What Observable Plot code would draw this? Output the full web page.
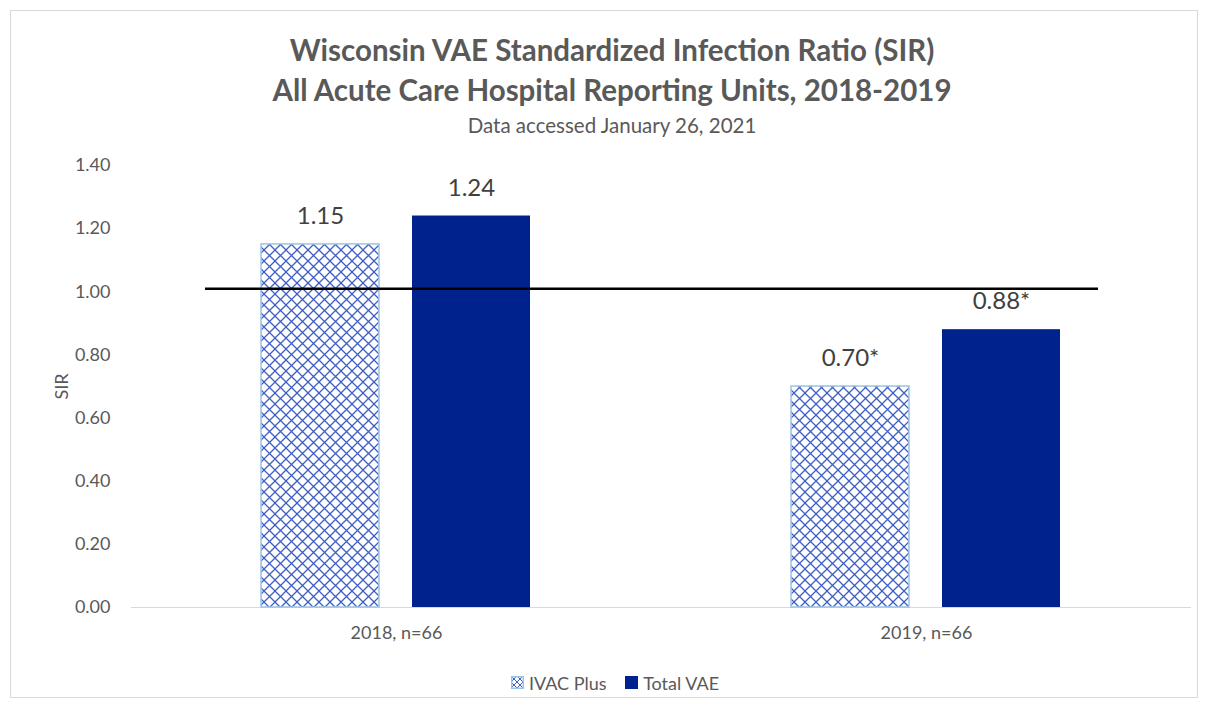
<!DOCTYPE html>
<html><head><meta charset="utf-8">
<script src="https://cdn.jsdelivr.net/npm/d3@7"></script>
<script src="https://cdn.jsdelivr.net/npm/@observablehq/plot@0.6"></script>
<style>
html,body{margin:0;padding:0;background:#fff;overflow:hidden;font-family:Lato,"Open Sans",sans-serif;}
#frame{position:absolute;left:10px;top:10px;width:1188px;height:688px;border:1px solid #d9d9d9;box-sizing:border-box;}
.t{position:absolute;left:0;width:1224px;text-align:center;color:#595959;white-space:nowrap;}
#t1,#t2{font-size:29.5px;font-weight:700;line-height:34px;}
#t1{top:33px;} #t2{top:73px;}
#t3{top:113px;font-size:20.5px;line-height:24px;}
#chart{position:absolute;left:0;top:140px;}
#legend{position:absolute;left:0;width:1230px;top:671px;text-align:center;font-size:18px;line-height:22px;color:#595959;}
#legend span.item{display:inline-flex;align-items:center;margin:0 7px;}
#legend svg{margin-right:5px;}
</style></head><body>
<div id="frame"></div>
<div class="t" id="t1">Wisconsin VAE Standardized Infection Ratio (SIR)</div>
<div class="t" id="t2">All Acute Care Hospital Reporting Units, 2018-2019</div>
<div class="t" id="t3">Data accessed January 26, 2021</div>
<div id="chart"></div>
<div id="legend"></div>
<script>
const categories = ["2018, n=66", "2019, n=66"];
const series = ["IVAC Plus", "Total VAE"];
const ivacValues = [1.15, 0.70];
const totalValues = [1.24, 0.88];
const ivacLabels = ["1.15", "0.70*"];
const totalLabels = ["1.24", "0.88*"];
const yTicks = [0, 0.2, 0.4, 0.6, 0.8, 1.0, 1.2, 1.4];
const benchmark = 1.01;

const HATCH = "#3f5fc4", EDGE = "#9dc3e6", NAVY = "#00228c";

const rows = categories.flatMap((c, i) => [
  {cat: c, series: series[0], value: ivacValues[i], label: ivacLabels[i]},
  {cat: c, series: series[1], value: totalValues[i], label: totalLabels[i]}
]);

const svg = Plot.plot({
  width: 1205, height: 520,
  marginTop: 25, marginBottom: 53, marginLeft: 131, marginRight: 14,
  style: {fontFamily: "Lato, 'Open Sans', sans-serif", fontSize: "18px", color: "#595959", background: "transparent"},
  fx: {domain: categories, paddingInner: 0, paddingOuter: 0, axis: "bottom", label: null, tickSize: 0, tickPadding: 19},
  x: {domain: series, paddingInner: 0.217, paddingOuter: 0.852, axis: null},
  y: {domain: [0, 1.4], ticks: yTicks, tickFormat: d => d.toFixed(2), tickSize: 0, tickPadding: 21,
      label: "SIR", labelAnchor: "center", labelOffset: 76, labelArrow: "none"},
  marks: [
    Plot.ruleY([0], {stroke: "#d9d9d9", strokeWidth: 1}),
    Plot.barY(rows.filter(d => d.series === series[0]), {fx: "cat", x: "series", y: "value", fill: "url(#hatch)", stroke: EDGE, strokeWidth: 1.5}),
    Plot.barY(rows.filter(d => d.series === series[1]), {fx: "cat", x: "series", y: "value", fill: NAVY}),
    Plot.ruleY([{cat: categories[0], y: benchmark}], {fx: "cat", y: "y", insetLeft: 74, stroke: "#000", strokeWidth: 2.5}),
    Plot.ruleY([{cat: categories[1], y: benchmark}], {fx: "cat", y: "y", insetRight: 93, stroke: "#000", strokeWidth: 2.5}),
    Plot.text(rows, {fx: "cat", x: "series", y: "value", text: "label", dy: -28, fontSize: 24, fill: "#404040"})
  ]
});

// strip any arrow glyph from the axis label (older Plot 0.6 builds add one)
svg.querySelectorAll("text").forEach(t => {
  if (/^SIR\s*[↑→]$/.test(t.textContent.trim())) t.textContent = "SIR";
  t.querySelectorAll("tspan").forEach(s => { if (/^SIR\s*[↑→]$/.test(s.textContent.trim())) s.textContent = "SIR"; });
});

const ns = "http://www.w3.org/2000/svg";
const defs = document.createElementNS(ns, "defs");
defs.innerHTML = `<pattern id="hatch" patternUnits="userSpaceOnUse" width="11" height="11">
  <rect width="11" height="11" fill="#fff"/>
  <path d="M0,0L11,11M11,0L0,11M-1,10L1,12M10,-1L12,1" stroke="${HATCH}" stroke-width="1.3"/>
</pattern>`;
svg.insertBefore(defs, svg.firstChild);
document.getElementById("chart").appendChild(svg);

const legend = document.getElementById("legend");
legend.innerHTML = `
<span class="item"><svg width="13" height="13"><defs><pattern id="lh" patternUnits="userSpaceOnUse" width="6" height="6"><rect width="6" height="6" fill="#fff"/><path d="M0,0L6,6M6,0L0,6" stroke="${HATCH}" stroke-width="1"/></pattern></defs><rect x="0.75" y="0.75" width="11.5" height="11.5" fill="url(#lh)" stroke="${EDGE}" stroke-width="1.5"/></svg>${series[0]}</span>
<span class="item"><svg width="13" height="13"><rect width="13" height="13" fill="${NAVY}"/></svg>${series[1]}</span>`;
</script>
</body></html>
